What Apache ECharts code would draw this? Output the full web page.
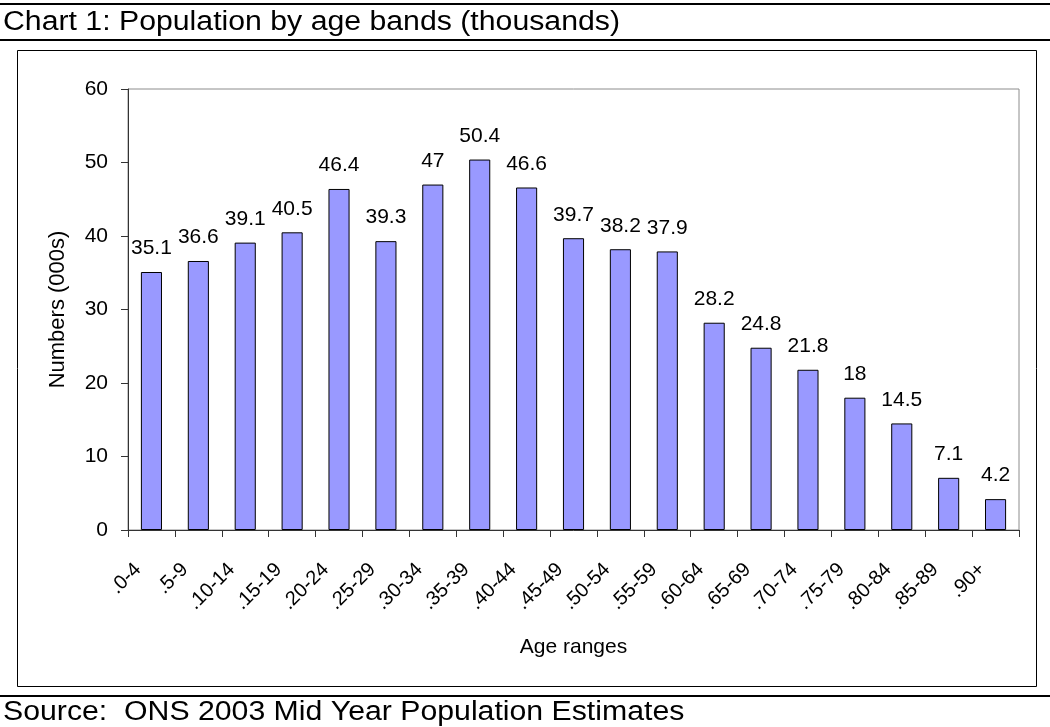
<!DOCTYPE html>
<html>
<head>
<meta charset="utf-8">
<script src="https://cdn.jsdelivr.net/npm/echarts@6/dist/echarts.min.js"></script>
<style>
  html, body { margin: 0; padding: 0; background: #fff; }
  #chart { width: 1050px; height: 727px; }
</style>
</head>
<body>
<div id="chart"></div>
<script>
// Age bands and population counts (thousands)
const ageBands = ['.0-4', '.5-9', '.10-14', '.15-19', '.20-24', '.25-29', '.30-34', '.35-39', '.40-44',
  '.45-49', '.50-54', '.55-59', '.60-64', '.65-69', '.70-74', '.75-79', '.80-84', '.85-89', '.90+'];
const population = [35.1, 36.6, 39.1, 40.5, 46.4, 39.3, 47, 50.4, 46.6,
  39.7, 38.2, 37.9, 28.2, 24.8, 21.8, 18, 14.5, 7.1, 4.2];

const titleText = 'Chart 1: Population by age bands (thousands)';
const sourceText = 'Source:  ONS 2003 Mid Year Population Estimates';
const yAxisTitle = 'Numbers (000s)';
const xAxisTitle = 'Age ranges';

const FONT = '"Liberation Sans", Arial, sans-serif';

const chart = echarts.init(document.getElementById('chart'), null, { renderer: 'canvas' });

chart.setOption({
  backgroundColor: '#ffffff',
  animation: false,
  textStyle: { fontFamily: FONT },
  graphic: [
    // heading rules
    { type: 'line', shape: { x1: 0, y1: 4, x2: 1050, y2: 4 }, style: { stroke: '#000', lineWidth: 2 } },
    { type: 'text', x: 3, y: 9, scaleX: 1.12, style: { text: titleText, font: '27px ' + FONT, fill: '#000' } },
    { type: 'line', shape: { x1: 0, y1: 40, x2: 1050, y2: 40 }, style: { stroke: '#000', lineWidth: 2 } },
    // chart frame
    { type: 'rect', shape: { x: 17.5, y: 50.5, width: 1019, height: 636 }, style: { fill: 'none', stroke: '#000', lineWidth: 1 } },
    // footer rule and source
    { type: 'line', shape: { x1: 0, y1: 696, x2: 1050, y2: 696 }, style: { stroke: '#000', lineWidth: 2 } },
    { type: 'text', x: 3, y: 699, scaleX: 1.12, style: { text: sourceText, font: '27px ' + FONT, fill: '#000' } }
  ],
  grid: {
    left: 128, right: 31, top: 89, bottom: 197,
    show: true, borderColor: '#8c8c8c', borderWidth: 1, backgroundColor: 'transparent'
  },
  xAxis: {
    type: 'category',
    data: ageBands,
    name: xAxisTitle,
    nameLocation: 'middle',
    nameGap: 107,
    nameTextStyle: { fontSize: 21, color: '#000', fontFamily: FONT },
    axisLine: { lineStyle: { color: '#333', width: 1 } },
    axisTick: { show: true, length: 7, lineStyle: { color: '#333' } },
    axisLabel: {
      rotate: 45, margin: 23, padding: [0, 19, 0, 0],
      fontSize: 20, color: '#000', fontFamily: FONT, interval: 0
    },
    splitLine: { show: false }
  },
  yAxis: {
    type: 'value',
    min: 0, max: 60, interval: 10,
    name: yAxisTitle,
    nameLocation: 'middle',
    nameGap: 59,
    nameRotate: 90,
    nameTextStyle: { fontSize: 22, color: '#000', fontFamily: FONT },
    axisLine: { show: true, lineStyle: { color: '#333', width: 1 } },
    axisTick: { show: true, length: 7, lineStyle: { color: '#333' } },
    axisLabel: { margin: 20, fontSize: 21, color: '#000', fontFamily: FONT },
    splitLine: { show: false }
  },
  series: [{
    type: 'bar',
    data: population,
    barWidth: '45%',
    itemStyle: { color: '#9999ff', borderColor: '#000', borderWidth: 1 },
    label: {
      show: true, position: 'top', distance: 13,
      fontSize: 21, color: '#000', fontFamily: FONT
    }
  }]
});
</script>
</body>
</html>
